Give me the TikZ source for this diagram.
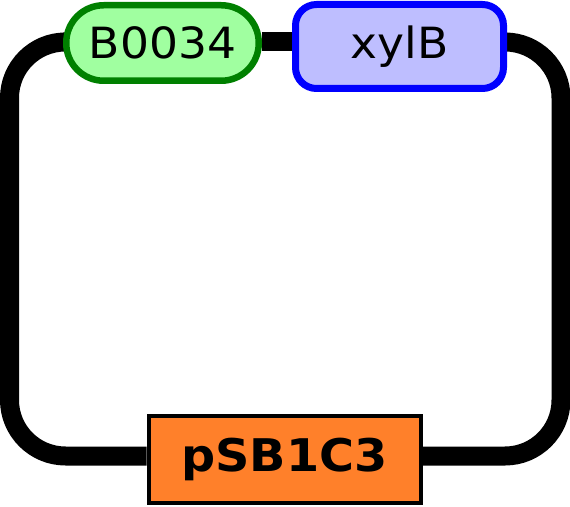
\documentclass[tikz,border=0pt]{standalone}
\usepackage{fontspec}
\setmainfont{DejaVu Sans}
\usetikzlibrary{backgrounds}
\definecolor{rbsfill}{RGB}{160,255,160}
\definecolor{rbsdraw}{RGB}{0,128,0}
\definecolor{cdsfill}{RGB}{190,190,255}
\definecolor{cdsdraw}{RGB}{0,0,255}
\definecolor{plasfill}{RGB}{255,128,42}
\tikzset{
  backbone/.style={line width=19pt, black, rounded corners=56pt},
  rbsbox/.style={draw=rbsdraw, fill=rbsfill, line width=6.5pt, rounded corners=37.5pt,
    minimum width=192.5pt, minimum height=75.5pt, inner sep=0pt,
    font=\fontsize{43}{43}\selectfont},
  cdsbox/.style={draw=cdsdraw, fill=cdsfill, line width=7pt, rounded corners=21pt,
    minimum width=208pt, minimum height=84pt, inner sep=0pt,
    font=\fontsize{43}{43}\selectfont},
  plasbox/.style={draw=black, fill=plasfill, line width=4pt,
    minimum width=272pt, minimum height=86pt, inner sep=0pt,
    font=\fontsize{45}{45}\selectfont\bfseries}
}
\begin{document}
\begin{tikzpicture}[x=1pt,y=1pt]
\useasboundingbox (0,0) rectangle (570,506);
\node[rbsbox] (b) at (162.5,463) {\scalebox{1.06}[1]{B0034}};
\node[cdsbox] (x) at (399.5,459.5) {\scalebox{1.06}[1]{xylB}};
\node[plasbox] (p) at (284.5,46.5) {\scalebox{1.06}[1]{pSB1C3}};
\coordinate (ne) at (561,464);
\coordinate (se) at (561,50);
\coordinate (sw) at (9.5,50);
\coordinate (nw) at (9.5,464);
\begin{scope}[on background layer]
\draw[backbone] (b.east |- nw) -- (x.west |- nw);
\draw[backbone] (x.east |- ne) -- (ne) -- (se) -- (p.east |- se);
\draw[backbone] (p.west |- sw) -- (sw) -- (nw) -- (b.west |- nw);
\end{scope}
\end{tikzpicture}
\end{document}
